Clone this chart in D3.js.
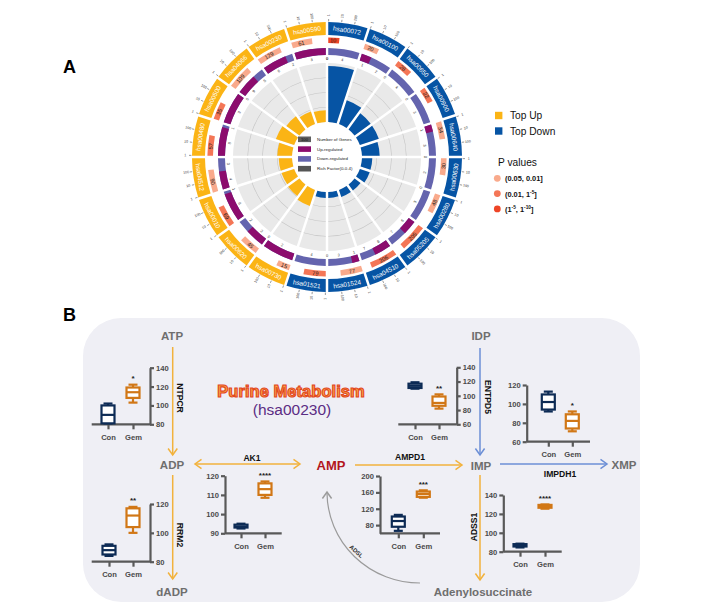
<!DOCTYPE html>
<html>
<head>
<meta charset="utf-8">
<script src="https://cdn.jsdelivr.net/npm/d3@7"></script>
<style>
  body { margin: 0; background: #fff; }
  svg { display: block; font-family: "Liberation Sans", Arial, sans-serif; }
</style>
</head>
<body>
<div id="chart"></div>
<script>
// ---------- panel A: pathways round the circle, clockwise from 12 o'clock
const pathways = ["hsa00072", "hsa00100", "hsa00650", "hsa00900", "hsa00640", "hsa00630", "hsa00280",
    "hsa05205", "hsa04510", "hsa01524", "hsa01521",
    "hsa00730", "hsa00620", "hsa00010", "hsa04512", "hsa00480", "hsa00500", "hsa04066", "hsa00230", "hsa00590"];
const pathGroup = ["Down", "Down", "Down", "Down", "Down", "Down", "Down", "Down", "Down", "Down", "Down",
    "Up", "Up", "Up", "Up", "Up", "Up", "Up", "Up", "Up"];
const geneCounts = [10, 20, 28, 22, 34, 30, 48, 205, 206, 77, 79, 15, 45, 69, 90, 57, 35, 109, 129, 61];
const pLevel = [3, 1, 2, 2, 1, 1, 1, 2, 2, 1, 2, 1, 1, 2, 1, 2, 2, 1, 1, 1];
const upGenes = [0, 1, 0, 0, 1, 0, 0, 6, 8, 1, 0, 2, 3, 8, 4, 8, 3, 9, 6, 3];
const downGenes = [4, 2, 4, 3, 3, 2, 3, 7, 7, 3, 4, 0, 2, 1, 3, 1, 0, 5, 2, 0];
const richFactor = [0.38, 0.17, 0.135, 0.135, 0.12, 0.07, 0.07, 0.05, 0.05, 0.04, 0.04,
    0.115, 0.095, 0.09, 0.09, 0.10, 0.13, 0.11, 0.09, 0.08];
const geneTicks = [1, 10, 100];
const richGrid = [0.1, 0.2, 0.3];
const innerLegend = ["Number of Genes", "Up-regulated", "Down-regulated", "Rich Factor(0-0.4)"];
const groupLegend = ["Top Up", "Top Down"];
// p value classes, pieces alternate normal / superscript
const pLegend = [["(0.05, 0.01]"], ["(0.01, 1", "-5", "]"], ["(1", "-5", ", 1", "-10", "]"]];

// ---------- panel B: box plots (min, q1, median, q3, max)
const boxGroups = ["Con", "Gem"];
const ntpcrCon = [81, 81, 90, 100, 102], ntpcrGem = [103, 108, 114, 119, 122];
const rrm2Con = [84, 85, 88, 91, 92], rrm2Gem = [100, 104, 112, 117, 118];
const ak1Con = [92.5, 93, 93.5, 94.5, 95], ak1Gem = [108.5, 110, 113, 116, 117];
const ampd1Con = [66, 76, 90, 101, 105], ampd1Gem = [147, 149, 156, 162, 165];
const entpd5Con = [110, 111, 114, 117, 119], entpd5Gem = [82, 86, 90, 99, 102];
const impdh1Con = [92, 94, 102, 110, 113], impdh1Gem = [71, 74, 82, 89, 92];
const adss1Con = [84.5, 85.5, 86.5, 88, 88.5], adss1Gem = [125.5, 126.5, 128, 129.5, 130];
const ntpcrTicks = [80, 100, 120, 140], rrm2Ticks = [80, 100, 120], ak1Ticks = [90, 100, 110, 120];
const ampd1Ticks = [80, 120, 160, 200], entpd5Ticks = [60, 80, 100, 120, 140];
const impdh1Ticks = [60, 80, 100, 120], adss1Ticks = [80, 100, 120, 140];

const svg = d3.select("#chart").append("svg")
    .attr("width", 706)
    .attr("height", 605);

// panel letters
svg.append("text").attr("x", 63).attr("y", 73).attr("font-size", 18).attr("font-weight", "bold").text("A");
svg.append("text").attr("x", 63).attr("y", 321).attr("font-size", 18).attr("font-weight", "bold").text("B");

// ================= panel A =================
const cx = 327, cy = 157;
const gA = svg.append("g").attr("transform", `translate(${cx},${cy})`);

const angle = d3.scaleBand().domain(pathways).range([0, 2 * Math.PI]);
const bw = angle.bandwidth();
const rRich = d3.scaleLinear().domain([0, 0.4]).range([35, 94]);
const logPos = d3.scaleLog().domain([1, 1000]).range([0, 1]);
const groupColor = d3.scaleOrdinal().domain(["Up", "Down"]).range(["#fbb415", "#0654a4"]);
const pColor = d3.scaleOrdinal().domain([1, 2, 3]).range(["#f9aa8c", "#f47656", "#ee4526"]);
const upColor = "#8c0c6d", downColor = "#6464ae";
const arc = d3.arc().padAngle(0.025).padRadius(100);

const sectors = pathways.map((p, i) => ({
    id: p, group: pathGroup[i], genes: geneCounts[i], p: pLevel[i],
    up: upGenes[i], down: downGenes[i], rf: richFactor[i],
    a0: angle(p), a1: angle(p) + bw
}));

function polar(a, r) {
    return [r * Math.sin(a), -r * Math.cos(a)];
}
function tangentRot(a) {
    const d = a * 180 / Math.PI;
    return (d > 90 && d < 270) ? d - 180 : d;
}
function radialRot(a) {
    const d = a * 180 / Math.PI;
    return d < 180 ? d - 90 : d + 90;
}
function place(a, r, rot) {
    const [x, y] = polar(a, r);
    return `translate(${x},${y}) rotate(${rot})`;
}

// grey track + grid rings
gA.selectAll("path.track").data(sectors).join("path")
    .attr("class", "track")
    .attr("d", d => arc({innerRadius: 35, outerRadius: 94, startAngle: d.a0, endAngle: d.a1}))
    .attr("fill", "#e9e9e9");

gA.selectAll("path.grid")
    .data(sectors.flatMap(s => richGrid.map(v => ({s: s, v: v}))))
    .join("path")
    .attr("class", "grid")
    .attr("d", d => arc({innerRadius: rRich(d.v) - 0.3, outerRadius: rRich(d.v) + 0.3,
        startAngle: d.s.a0, endAngle: d.s.a1}))
    .attr("fill", "#c4c4c4");

// rich factor bars
gA.selectAll("path.bar").data(sectors).join("path")
    .attr("class", "bar")
    .attr("d", d => arc({innerRadius: 35, outerRadius: rRich(d.rf), startAngle: d.a0, endAngle: d.a1}))
    .attr("fill", d => groupColor(d.group));

// up / down ring
const ringIn = 102, ringOut = 109, ringPad = 1.25 / 105.5;
gA.selectAll("path.down").data(sectors).join("path")
    .attr("class", "down")
    .attr("d", d => arc({innerRadius: ringIn, outerRadius: ringOut, startAngle: d.a0, endAngle: d.a1}))
    .attr("fill", downColor);

gA.selectAll("path.up").data(sectors.filter(d => d.up > 0)).join("path")
    .attr("class", "up")
    .attr("d", d => {
        const f = d.up / (d.up + d.down);
        const e = f >= 1 ? d.a1 : d.a0 + bw * f + ringPad;
        return arc({innerRadius: ringIn, outerRadius: ringOut, startAngle: d.a0, endAngle: e});
    })
    .attr("fill", upColor);

const countLabels = sectors.flatMap(d => {
    const f = d.up / (d.up + d.down);
    return [{a: d.a0 + bw * f / 2, t: d.up}, {a: d.a0 + bw * (f + (1 - f) / 2), t: d.down}];
});
gA.selectAll("text.count").data(countLabels).join("text")
    .attr("class", "count")
    .attr("transform", d => place(d.a, 98.6, tangentRot(d.a)))
    .attr("text-anchor", "middle")
    .attr("dominant-baseline", "central")
    .attr("font-size", 3.9)
    .attr("fill", "#333")
    .text(d => d.t);

// number of genes (log scale from sector start)
const genePad = 1.25 / 116.7;
gA.selectAll("path.genes").data(sectors).join("path")
    .attr("class", "genes")
    .attr("d", d => arc({innerRadius: 114, outerRadius: 119.6, startAngle: d.a0,
        endAngle: d.a0 + bw * logPos(d.genes) + genePad}))
    .attr("fill", d => pColor(d.p));

gA.selectAll("text.genes").data(sectors).join("text")
    .attr("class", "genes")
    .attr("transform", d => {
        const a = d.a0 + bw * logPos(d.genes) / 2;
        return place(a, 116.8, tangentRot(a));
    })
    .attr("text-anchor", "middle")
    .attr("dominant-baseline", "central")
    .attr("font-size", 5.6)
    .attr("fill", "#1a1a1a")
    .text(d => d.genes);

// pathway band
gA.selectAll("path.band").data(sectors).join("path")
    .attr("class", "band")
    .attr("d", d => arc({innerRadius: 122, outerRadius: 135, startAngle: d.a0, endAngle: d.a1}))
    .attr("fill", d => groupColor(d.group));

gA.selectAll("text.band").data(sectors).join("text")
    .attr("class", "band")
    .attr("transform", d => {
        const a = (d.a0 + d.a1) / 2;
        return place(a, 128.5, tangentRot(a));
    })
    .attr("text-anchor", "middle")
    .attr("dominant-baseline", "central")
    .attr("font-size", 6.4)
    .attr("fill", "#fff")
    .text(d => d.id);

// outer log axis per sector
const tickData = sectors.flatMap(s => geneTicks.map(t => ({a: s.a0 + 0.012 + (bw - 0.024) * logPos(t), t: t})));
gA.selectAll("line.tick").data(tickData).join("line")
    .attr("class", "tick")
    .attr("x1", d => polar(d.a, 135.6)[0]).attr("y1", d => polar(d.a, 135.6)[1])
    .attr("x2", d => polar(d.a, 138)[0]).attr("y2", d => polar(d.a, 138)[1])
    .attr("stroke", "#333").attr("stroke-width", 0.5);
gA.selectAll("text.tick").data(tickData).join("text")
    .attr("class", "tick")
    .attr("transform", d => place(d.a, 141.8, radialRot(d.a)))
    .attr("text-anchor", "middle")
    .attr("dominant-baseline", "central")
    .attr("font-size", 3.6)
    .attr("fill", "#333")
    .text(d => d.t);

// inner legend
const innerFill = ["#5e5e5e", upColor, downColor, "#555"];
const gIn = gA.selectAll("g.inleg").data(innerLegend).join("g")
    .attr("class", "inleg")
    .attr("transform", (d, i) => `translate(-29,${-17.7 + i * 9.8})`);
gIn.append("rect").attr("x", 0).attr("y", -2.8).attr("width", 13).attr("height", 5.6)
    .attr("fill", (d, i) => innerFill[i]);
gIn.filter((d, i) => i === 0).append("text")
    .attr("x", 6.5).attr("y", 0).attr("text-anchor", "middle").attr("dominant-baseline", "central")
    .attr("font-size", 4.2).attr("fill", "#111").text("100");
gIn.append("text").attr("x", 19).attr("y", 0).attr("dominant-baseline", "central")
    .attr("font-size", 4.4).attr("fill", "#222").text(d => d);

// right legend
const gLeg = svg.append("g");
gLeg.selectAll("rect.grp").data(groupLegend).join("rect")
    .attr("class", "grp")
    .attr("x", 495).attr("y", (d, i) => 111.8 + i * 15.5)
    .attr("width", 7.4).attr("height", 7.4)
    .attr("fill", (d, i) => groupColor(i === 0 ? "Up" : "Down"));
gLeg.selectAll("text.grp").data(groupLegend).join("text")
    .attr("class", "grp")
    .attr("x", 510).attr("y", (d, i) => 119.3 + i * 15.5)
    .attr("font-size", 10.2).attr("fill", "#111")
    .text(d => d);
gLeg.append("text").attr("x", 498).attr("y", 166).attr("font-size", 10.2).attr("fill", "#111").text("P values");
gLeg.selectAll("circle.pv").data(pLegend).join("circle")
    .attr("class", "pv")
    .attr("cx", 497.3).attr("cy", (d, i) => 178.3 + i * 15.3)
    .attr("r", 3.4)
    .attr("fill", (d, i) => pColor(i + 1));
const pTxt = gLeg.selectAll("text.pv").data(pLegend).join("text")
    .attr("class", "pv")
    .attr("x", 505).attr("y", (d, i) => 181.2 + i * 15.3)
    .attr("font-size", 7.4).attr("font-weight", "bold").attr("fill", "#111");
pTxt.each(function (parts) {
    const t = d3.select(this);
    parts.forEach((s, k) => {
        const sup = k % 2 === 1;
        t.append("tspan")
            .attr("dy", sup ? -3 : (k > 0 ? 3 : 0))
            .attr("font-size", sup ? 4.8 : 7.4)
            .text(s);
    });
});

// ================= panel B =================
svg.append("rect")
    .attr("x", 83).attr("y", 318).attr("width", 557).attr("height", 284).attr("rx", 38)
    .attr("fill", "#efeff5");

const orange = "#f2b23c", blue = "#6c8fd6", grey = "#9b9b9b";
const conColor = "#0d2b55", gemColor = "#d17716";

function arrowHead(g, tx, ty, dx, dy, col) {
    const L = Math.hypot(dx, dy), ux = dx / L, uy = dy / L;
    const bx = tx - ux * 6.5, by = ty - uy * 6.5;
    g.append("polyline")
        .attr("points", `${bx - uy * 4.6},${by + ux * 4.6} ${tx},${ty} ${bx + uy * 4.6},${by - ux * 4.6}`)
        .attr("fill", "none").attr("stroke", col).attr("stroke-width", 1.5)
        .attr("stroke-linejoin", "miter");
}
function arrow(x1, y1, x2, y2, col, both) {
    const g = svg.append("g");
    g.append("line").attr("x1", x1).attr("y1", y1).attr("x2", x2).attr("y2", y2)
        .attr("stroke", col).attr("stroke-width", 1.5);
    arrowHead(g, x2, y2, x2 - x1, y2 - y1, col);
    if (both) arrowHead(g, x1, y1, x1 - x2, y1 - y2, col);
}

arrow(172.7, 347, 172.7, 455, orange);
arrow(172.7, 475, 172.7, 579, orange);
arrow(195, 464, 300, 464, orange, true);
arrow(355, 465, 462, 465, orange);
arrow(480, 348, 480, 455, blue);
arrow(500, 464, 607, 464, blue);
arrow(480, 475, 480, 580, orange);

// ADSL curve
const gC = svg.append("g");
gC.append("path").attr("d", "M420,583 A93,91 0 0,1 327,493")
    .attr("fill", "none").attr("stroke", grey).attr("stroke-width", 1.2);
arrowHead(gC, 327, 492, 0, -1, grey);
svg.append("text").attr("transform", "translate(355,553) rotate(42)")
    .attr("text-anchor", "middle").attr("font-size", 6).attr("font-weight", "bold").attr("fill", "#333")
    .text("ADSL");

// metabolites
const metabolites = [
    {t: "ATP", x: 172, y: 340}, {t: "ADP", x: 172, y: 469}, {t: "dADP", x: 172, y: 596},
    {t: "IDP", x: 481, y: 340}, {t: "IMP", x: 481, y: 470}, {t: "XMP", x: 624, y: 469},
    {t: "Adenylosuccinate", x: 483, y: 596}
];
svg.selectAll("text.met").data(metabolites).join("text")
    .attr("class", "met")
    .attr("x", d => d.x).attr("y", d => d.y)
    .attr("text-anchor", "middle").attr("font-size", 11.5).attr("font-weight", "bold")
    .attr("fill", "#6e6e6e")
    .text(d => d.t);
svg.append("text").attr("x", 331).attr("y", 470).attr("text-anchor", "middle")
    .attr("font-size", 13).attr("font-weight", "bold").attr("fill", "#b3151d").text("AMP");

// enzymes
const enzymes = [
    {t: "AK1", x: 252, y: 461, r: 0}, {t: "AMPD1", x: 410, y: 460, r: 0}, {t: "IMPDH1", x: 560, y: 477, r: 0},
    {t: "NTPCR", x: 180, y: 398, r: 90}, {t: "RRM2", x: 180, y: 535, r: 90},
    {t: "ENTPD5", x: 488, y: 397, r: 90}, {t: "ADSS1", x: 474, y: 527, r: -90}
];
svg.selectAll("text.enz").data(enzymes).join("text")
    .attr("class", "enz")
    .attr("transform", d => `translate(${d.x},${d.y}) rotate(${d.r})`)
    .attr("text-anchor", "middle")
    .attr("dominant-baseline", d => d.r === 0 ? "auto" : "central")
    .attr("font-size", 8.6).attr("font-weight", "bold").attr("fill", "#111")
    .text(d => d.t);

// title
svg.append("text").attr("x", 291).attr("y", 396.5).attr("text-anchor", "middle")
    .attr("font-size", 16.6).attr("font-weight", "bold")
    .attr("fill", "#f9a443").attr("stroke", "#e2461f").attr("stroke-width", 1.1)
    .text("Purine Metabolism");
svg.append("text").attr("x", 292).attr("y", 415).attr("text-anchor", "middle")
    .attr("font-size", 15.5).attr("fill", "#5b2c83")
    .text("(hsa00230)");

// box plots
function boxPlot(L, ticks, con, gem, stars) {
    const g = svg.append("g");
    const y = d3.scaleLinear().domain(L.domain).range([L.yBottom, L.yTop]);
    const x = d3.scalePoint().domain(boxGroups).range([L.conX, L.gemX]);
    const yAxis = (L.side === "right" ? d3.axisRight(y) : d3.axisLeft(y))
        .tickValues(ticks).tickSize(4).tickSizeOuter(0).tickPadding(2);
    const ay = g.append("g").attr("transform", `translate(${L.axisX},0)`).call(yAxis);
    g.append("line").attr("x1", L.x0).attr("x2", L.x1).attr("y1", L.yBottom).attr("y2", L.yBottom)
        .attr("stroke", "#595959").attr("stroke-width", 2.2);
    const ax = g.append("g").attr("transform", `translate(0,${L.yBottom})`)
        .call(d3.axisBottom(x).tickSize(5).tickPadding(5));
    ax.select(".domain").remove();
    [ay, ax].forEach(a => {
        a.selectAll("path,line").attr("stroke", "#595959").attr("stroke-width", 2.2);
        a.selectAll("text").attr("font-size", 7.6).attr("font-weight", "bold").attr("fill", "#4a4a4a")
            .attr("font-family", "Liberation Sans, Arial, sans-serif");
    });

    const boxes = [{v: con, c: conColor, k: "Con"}, {v: gem, c: gemColor, k: "Gem"}];
    const w = 13, cw = 9;
    boxes.forEach(b => {
        const px = x(b.k), v = b.v;
        const gb = g.append("g").attr("stroke", b.c).attr("stroke-width", 2.2);
        gb.append("line").attr("x1", px).attr("x2", px).attr("y1", y(v[0])).attr("y2", y(v[1]));
        gb.append("line").attr("x1", px).attr("x2", px).attr("y1", y(v[3])).attr("y2", y(v[4]));
        gb.append("line").attr("x1", px - cw / 2).attr("x2", px + cw / 2).attr("y1", y(v[0])).attr("y2", y(v[0]));
        gb.append("line").attr("x1", px - cw / 2).attr("x2", px + cw / 2).attr("y1", y(v[4])).attr("y2", y(v[4]));
        gb.append("rect").attr("x", px - w / 2).attr("y", y(v[3]))
            .attr("width", w).attr("height", Math.max(0.5, y(v[1]) - y(v[3])))
            .attr("fill", "#fff");
        gb.append("line").attr("x1", px - w / 2).attr("x2", px + w / 2).attr("y1", y(v[2])).attr("y2", y(v[2]));
    });
    g.append("text").attr("x", x("Gem")).attr("y", y(gem[4]) - 3.5)
        .attr("text-anchor", "middle").attr("font-size", 8).attr("font-weight", "bold").attr("fill", "#222")
        .text(stars);
}

const boxLayout = {
    ntpcr: {side: "right", axisX: 150, x0: 91.7, x1: 150, yTop: 367.7, yBottom: 424.3, domain: [80, 140], conX: 108, gemX: 133},
    rrm2: {side: "right", axisX: 150, x0: 91.7, x1: 150, yTop: 504, yBottom: 561.7, domain: [80, 120], conX: 109, gemX: 133},
    ak1: {side: "left", axisX: 225, x0: 225, x1: 281.7, yTop: 475.7, yBottom: 533.3, domain: [90, 120], conX: 241, gemX: 265},
    ampd1: {side: "left", axisX: 380, x0: 380, x1: 440, yTop: 476, yBottom: 533.3, domain: [60, 200], conX: 398.3, gemX: 423.3},
    entpd5: {side: "right", axisX: 456.7, x0: 398.3, x1: 456.7, yTop: 367.3, yBottom: 424.3, domain: [60, 140], conX: 415, gemX: 439},
    impdh1: {side: "left", axisX: 526.7, x0: 526.7, x1: 590, yTop: 385, yBottom: 441.7, domain: [60, 120], conX: 548.3, gemX: 572.3},
    adss1: {side: "left", axisX: 503.3, x0: 503.3, x1: 561.7, yTop: 495, yBottom: 551.7, domain: [80, 140], conX: 520, gemX: 545}
};

boxPlot(boxLayout.ntpcr, ntpcrTicks, ntpcrCon, ntpcrGem, "*");
boxPlot(boxLayout.rrm2, rrm2Ticks, rrm2Con, rrm2Gem, "**");
boxPlot(boxLayout.ak1, ak1Ticks, ak1Con, ak1Gem, "****");
boxPlot(boxLayout.ampd1, ampd1Ticks, ampd1Con, ampd1Gem, "***");
boxPlot(boxLayout.entpd5, entpd5Ticks, entpd5Con, entpd5Gem, "**");
boxPlot(boxLayout.impdh1, impdh1Ticks, impdh1Con, impdh1Gem, "*");
boxPlot(boxLayout.adss1, adss1Ticks, adss1Con, adss1Gem, "****");
</script>
</body>
</html>
